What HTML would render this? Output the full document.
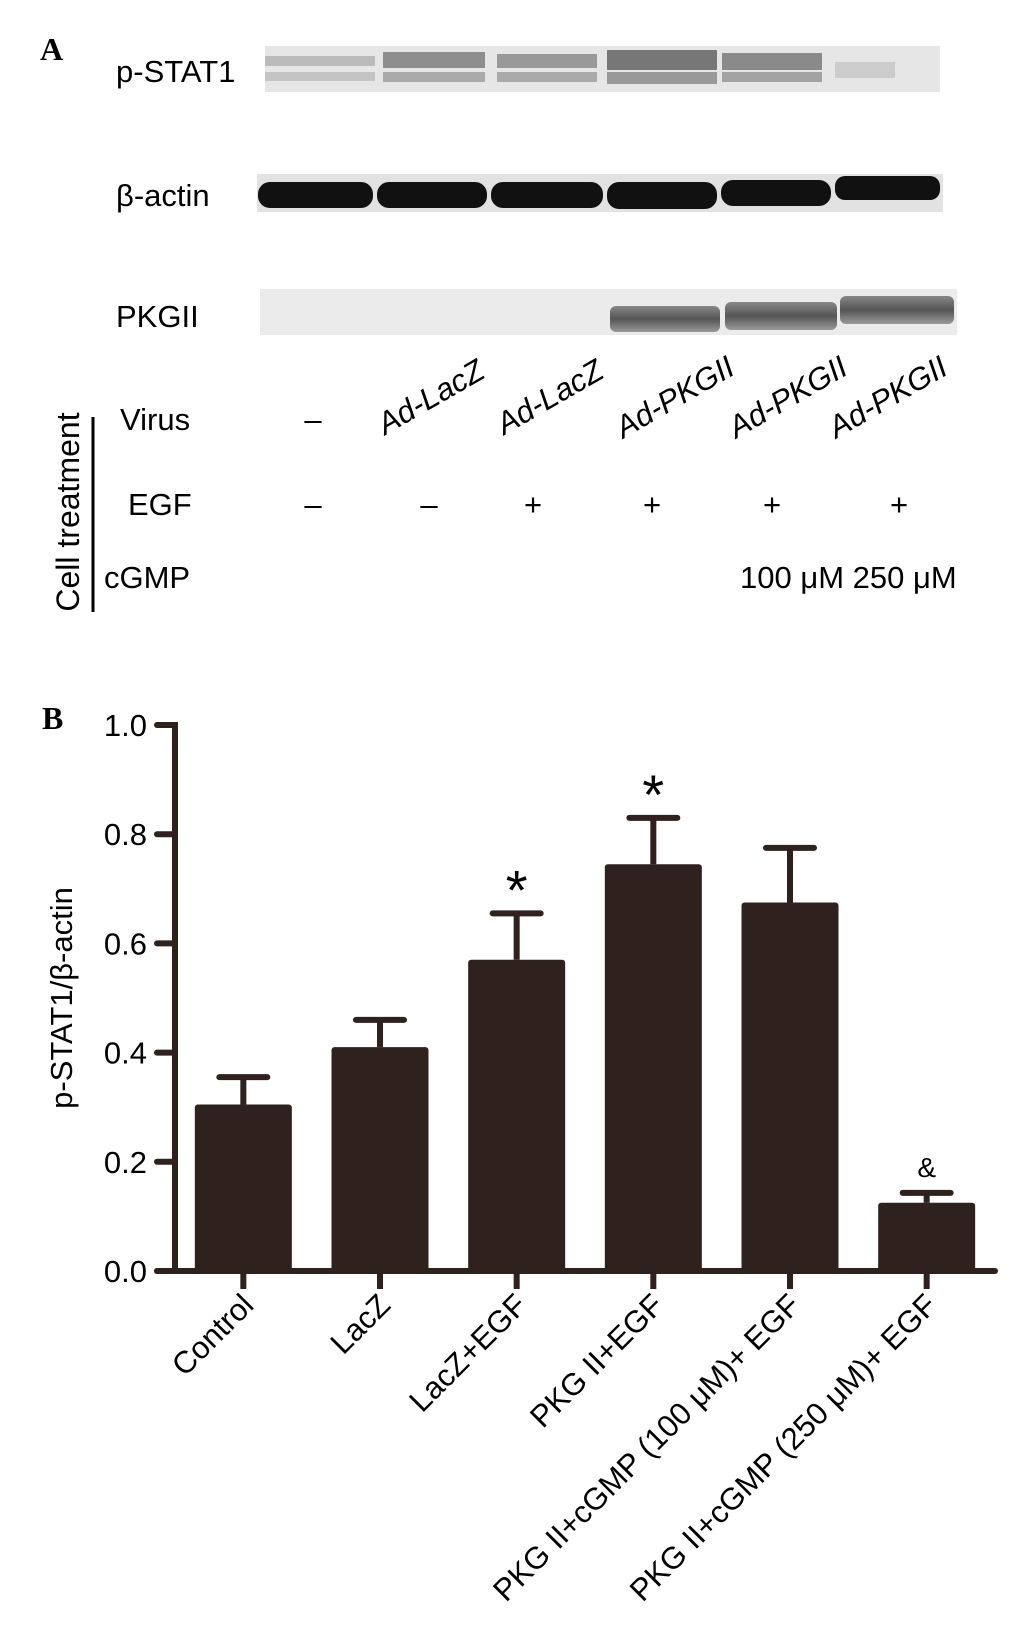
<!DOCTYPE html>
<html><head><meta charset="utf-8"><style>
body{margin:0;background:#fff;}
svg{display:block;font-family:"Liberation Sans",Arial,sans-serif;}
</style></head><body>
<svg id="fig" width="1033" height="1640" viewBox="0 0 1033 1640">
<defs>
<linearGradient id="pk" x1="0" y1="0" x2="0" y2="1">
<stop offset="0" stop-color="#888"/><stop offset="0.5" stop-color="#555"/><stop offset="1" stop-color="#999"/></linearGradient>
</defs>
<g>
<text x="40" y="60" font-family="Liberation Serif,serif" font-weight="bold" font-size="32">A</text>
<text x="116" y="82" font-size="31">p-STAT1</text>
<text x="116" y="206" font-size="31">β-actin</text>
<text x="116" y="327" font-size="31">PKGII</text>
<g>
<rect x="265" y="46" width="675" height="46" fill="#e6e6e6"/>
<rect x="265" y="56" width="110" height="10" fill="#bbb"/><rect x="265" y="72" width="110" height="9" fill="#c4c4c4"/>
<rect x="383" y="52" width="102" height="16" fill="#8e8e8e"/><rect x="383" y="72" width="102" height="10" fill="#aaa"/>
<rect x="497" y="54" width="100" height="14" fill="#999"/><rect x="497" y="72" width="100" height="10" fill="#aaa"/>
<rect x="607" y="50" width="110" height="20" fill="#777"/><rect x="607" y="72" width="110" height="12" fill="#999"/>
<rect x="722" y="53" width="100" height="17" fill="#8a8a8a"/><rect x="722" y="72" width="100" height="10" fill="#a3a3a3"/>
<rect x="835" y="62" width="60" height="16" fill="#ccc"/>
</g>
<g>
<rect x="257" y="174" width="686" height="38" fill="#e2e2e2"/>
<rect x="258" y="182" width="115" height="26" rx="12" fill="#111"/>
<rect x="377" y="182" width="110" height="26" rx="12" fill="#111"/>
<rect x="491" y="182" width="112" height="26" rx="12" fill="#111"/>
<rect x="607" y="182" width="110" height="27" rx="12" fill="#111"/>
<rect x="721" y="180" width="110" height="26" rx="12" fill="#111"/>
<rect x="835" y="176" width="105" height="24" rx="10" fill="#111"/>
</g>
<g>
<rect x="260" y="289" width="697" height="46" fill="#ebebeb"/>
<rect x="610" y="306" width="110" height="26" rx="6" fill="url(#pk)"/>
<rect x="725" y="302" width="112" height="28" rx="6" fill="url(#pk)"/>
<rect x="840" y="296" width="114" height="28" rx="6" fill="url(#pk)"/>
</g>
<line x1="93" y1="417" x2="93" y2="612" stroke="#000" stroke-width="3"/>
<text transform="translate(79,512) rotate(-90)" text-anchor="middle" font-size="32">Cell treatment</text>
<text x="120" y="430" font-size="31">Virus</text>
<text x="128" y="515" font-size="31">EGF</text>
<text x="104" y="588" font-size="31">cGMP</text>
<g font-size="31" text-anchor="middle">
<text x="313" y="430">–</text>
<text transform="translate(436,406) rotate(-30)" font-style="italic">Ad-LacZ</text>
<text transform="translate(555,406) rotate(-30)" font-style="italic">Ad-LacZ</text>
<text transform="translate(680,406) rotate(-30)" font-style="italic">Ad-PKGII</text>
<text transform="translate(793,406) rotate(-30)" font-style="italic">Ad-PKGII</text>
<text transform="translate(893,406) rotate(-30)" font-style="italic">Ad-PKGII</text>
<text x="313" y="515">–</text>
<text x="429" y="515">–</text>
<text x="533" y="515">+</text>
<text x="652" y="515">+</text>
<text x="772" y="515">+</text>
<text x="899" y="515">+</text>
</g>
<text x="740" y="588" font-size="31">100 μM 250 μM</text>
</g>
<g id="panelB">
<text x="42" y="729" font-family="Liberation Serif,serif" font-weight="bold" font-size="32">B</text>
<text transform="translate(72,998) rotate(-90)" text-anchor="middle" font-size="31">p-STAT1/β-actin</text>
</g>
</svg>
<script>
const categories=["Control","LacZ","LacZ+EGF","PKG II+EGF","PKG II+cGMP (100 μM)+ EGF","PKG II+cGMP (250 μM)+ EGF"];
const means=[0.305,0.41,0.57,0.745,0.675,0.125];
const errors=[0.05,0.05,0.085,0.085,0.1,0.018];
const marks=["","","*","*","","&"];
const yTicks=[0,0.2,0.4,0.6,0.8,1.0];
const yTickLabels=["0.0","0.2","0.4","0.6","0.8","1.0"];
const NS="http://www.w3.org/2000/svg";
const g=document.getElementById("panelB");
const x0=175,x1=995,y0=1271,y1=725;
const band=(x1-x0)/categories.length;
function xC(i){return x0+band*(i+0.5);}
function yS(v){return y0-(y0-y1)*v;}
function mk(t,a){const e=document.createElementNS(NS,t);for(const k in a)e.setAttribute(k,a[k]);g.appendChild(e);return e;}
const C="#2e211e";
categories.forEach((c,i)=>{
 const cx=xC(i),bw=97;
 const top=yS(means[i]+errors[i]);
 const eb=mk("line",{x1:cx,x2:cx,y1:yS(means[i]),y2:top,stroke:C,"stroke-width":6});
 
 
 const cap=mk("line",{x1:cx-24,x2:cx+24,y1:top,y2:top,stroke:C,"stroke-width":6,"stroke-linecap":"round"});
 
 
 const b=mk("rect",{x:cx-bw/2,y:yS(means[i]),width:bw,height:y0-yS(means[i]),fill:C,rx:3});
 
 
 const tk=mk("line",{x1:cx,x2:cx,y1:y0,y2:y0+18,stroke:C,"stroke-width":6});
 
 
 const lb=mk("text",{transform:`translate(${cx+12},${y0+36}) rotate(-45)`,"text-anchor":"end","font-size":31,fill:"#000"});
 lb.textContent=c;
 
 
 if(marks[i]){
  const big=marks[i]=="*";
  const m=mk("text",{x:cx,y:big?top-4:top-16,"text-anchor":"middle","font-size":big?56:28,fill:"#000"});
  m.textContent=marks[i];
  
  
 }
});
const ya=mk("line",{x1:x0,x2:x0,y1:y1-3,y2:y0,stroke:C,"stroke-width":6});


const xa=mk("line",{x1:157,x2:x1,y1:y0,y2:y0,stroke:C,"stroke-width":6,"stroke-linecap":"round"});


yTicks.forEach((v,i)=>{
 const t=mk("line",{x1:157,x2:x0,y1:yS(v),y2:yS(v),stroke:C,"stroke-width":6,"stroke-linecap":"round"});
 
 
 const l=mk("text",{x:147,y:yS(v)+11,"text-anchor":"end","font-size":31,fill:"#000"});
 l.textContent=yTickLabels[i];
 
 
});
</script>
</body></html>
